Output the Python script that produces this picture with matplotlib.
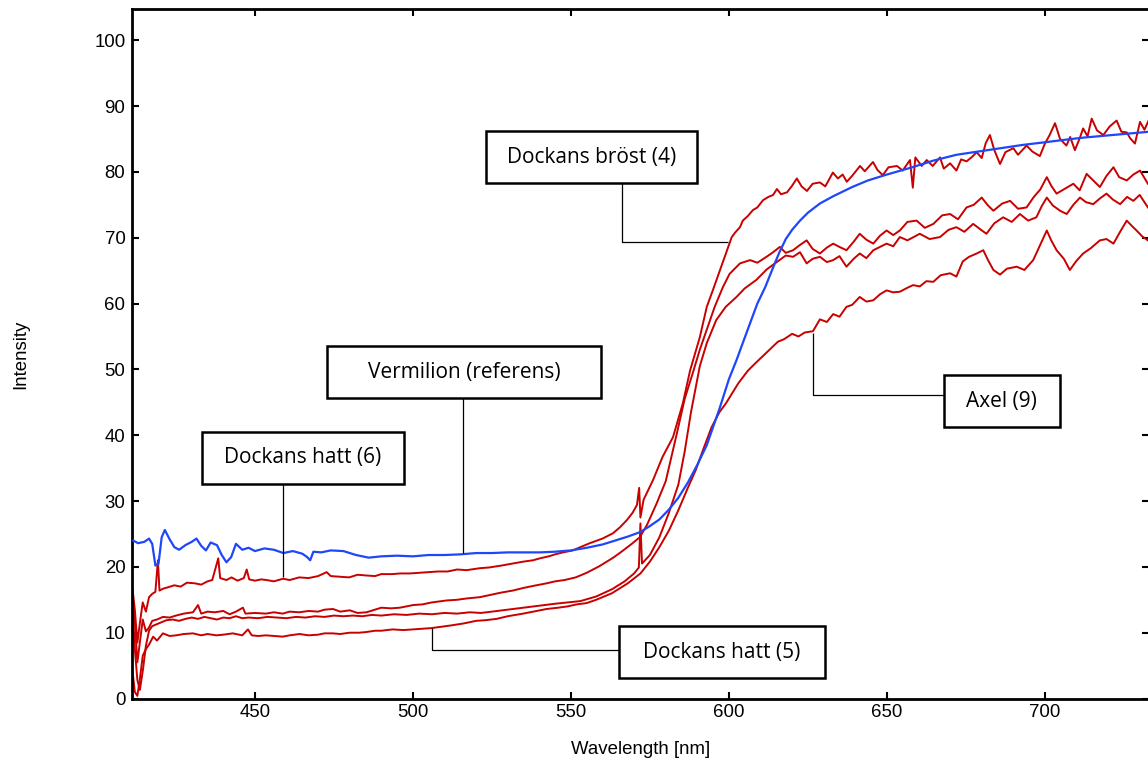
import matplotlib
matplotlib.use('Agg')
import matplotlib.pyplot as plt
from matplotlib.patches import Rectangle

# ------------------------------------------------------------------
# data (wavelength nm, intensity)
# ------------------------------------------------------------------
blue_wl = [411.5, 413, 415, 416.5, 417.5, 418.5, 419.5, 420.5, 421.5, 423, 424.5, 426, 428, 430,
           431.5, 433, 434.5, 436, 438, 439.5, 441, 442.5, 444, 446, 448, 450, 453, 456, 459, 462,
           465, 466.5, 467.5, 468.5, 471, 474, 478, 482, 486, 490, 495, 500, 505, 510, 515, 520,
           525, 530, 535, 540, 545, 550, 555, 560, 564, 568, 572, 575, 578, 581, 584, 587, 590,
           593, 597, 600, 602.4, 605, 607, 609, 611.5, 614, 616, 618, 620, 622.5, 625, 628.8,
           633, 639, 644, 650, 658, 664.6, 672, 679, 686, 693, 700, 705, 712, 719, 726, 733]
blue_val = [24.0, 23.6, 23.8, 24.3, 23.5, 20.2, 20.5, 24.5, 25.6, 24.2, 23.0, 22.6, 23.3, 23.8,
            24.3, 23.2, 22.5, 23.7, 23.3, 21.8, 20.7, 21.5, 23.5, 22.6, 22.9, 22.4, 22.8, 22.6,
            22.1, 22.4, 22.0, 21.5, 21.0, 22.3, 22.2, 22.5, 22.4, 21.8, 21.4, 21.6, 21.7, 21.6,
            21.8, 21.8, 21.9, 22.1, 22.1, 22.2, 22.2, 22.2, 22.3, 22.5, 22.9, 23.4, 24.0, 24.6,
            25.3, 26.2, 27.2, 28.7, 30.5, 32.8, 35.5, 38.5, 44.0, 48.5, 51.4, 54.8, 57.4, 60.0,
            62.5, 65.5, 67.8, 69.8, 71.2, 72.6, 73.8, 75.2, 76.3, 77.7, 78.7, 79.6, 80.7, 81.7,
            82.6, 83.1, 83.6, 84.1, 84.5, 84.8, 85.2, 85.5, 85.8, 86.1]

# top red curve at the long-wavelength end (Dockans hatt (6) / Dockans brost (4))
red_a_wl = [411.3, 412, 412.8, 413.6, 414.5, 415.5, 416.5, 417.5, 418.5, 419.3, 419.8, 421, 422.5,
            424.5, 426.5, 428.5, 431, 433, 435, 436.5, 438.4, 439, 441, 442.6, 444.5, 446.5, 447.4,
            448.2, 450, 452, 453.7, 456, 458.9, 461, 464, 467, 470, 472.7, 474, 477, 479.8, 482.5,
            485, 488, 490, 493.4, 496, 499, 502, 505.4, 508, 511, 514, 517, 521.2, 524, 528, 531.6,
            535, 538, 540.2, 543, 545, 547.5, 550.6, 553, 556, 560, 563.3, 565.5, 567.7, 569.5,
            570.9, 571.6, 572, 573, 574, 576, 579, 582.3, 585.4, 587.7, 590.8, 593, 594.9, 597.2,
            599.4, 600.9, 602, 603.5, 604.4, 606, 607.6, 609, 610.8, 612.5, 614, 615.2, 616.5,
            618.4, 620, 621.5, 623, 624.7, 626.5, 628.8, 630.5, 632.9, 634.5, 636, 637.3, 639,
            641.5, 643, 645.6, 647, 648.7, 650.5, 653.2, 655, 657.3, 658.2, 659, 661, 662.6, 664.5,
            666.8, 668, 670, 672, 673.5, 675.2, 677, 678.4, 680, 681.3, 682.6, 684, 685.8, 687.5,
            690, 691.5, 694.2, 696, 698.4, 700, 701.5, 703.2, 704.8, 706.8, 708, 709.5, 711, 712.1,
            713.5, 714.8, 716.5, 718.5, 720.5, 722.7, 724.2, 725.9, 727, 728.5, 730.1, 731.5, 733]
red_a_val = [16.5, 13.5, 8.5, 11.5, 14.6, 13.2, 15.4, 15.9, 16.2, 21.0, 16.4, 16.7, 16.9, 17.2,
             17.0, 17.6, 17.5, 17.3, 17.8, 18.0, 21.3, 18.3, 18.0, 18.4, 17.9, 18.3, 19.6, 18.1,
             17.9, 18.1, 18.0, 17.8, 18.2, 18.0, 18.4, 18.3, 18.6, 19.2, 18.6, 18.5, 18.4, 18.8,
             18.7, 18.6, 18.9, 18.9, 19.0, 19.0, 19.1, 19.2, 19.3, 19.3, 19.6, 19.5, 19.8, 19.9,
             20.2, 20.5, 20.8, 21.0, 21.3, 21.6, 21.9, 22.2, 22.5, 23.0, 23.6, 24.3, 25.1, 26.0,
             27.1, 28.2, 29.4, 32.0, 27.5, 30.2, 31.2, 33.2, 36.7, 39.7, 44.8, 49.8, 54.9, 59.5,
             62.0, 65.1, 68.1, 70.1, 70.8, 71.6, 72.6, 73.3, 74.2, 74.6, 75.7, 76.2, 76.5, 77.4,
             76.6, 76.9, 77.9, 79.0, 77.8, 77.1, 78.2, 78.4, 77.8, 79.9, 79.0, 79.6, 78.5, 79.4,
             80.9, 80.1, 81.5, 80.3, 79.5, 80.7, 80.9, 80.2, 81.8, 77.6, 82.2, 80.9, 81.8, 80.9,
             82.2, 80.5, 81.3, 80.2, 81.9, 81.6, 82.3, 83.0, 82.1, 84.4, 85.6, 83.3, 81.2, 83.0,
             83.6, 82.6, 84.0, 83.1, 82.4, 84.3, 85.6, 87.4, 85.0, 84.0, 85.3, 83.3, 85.1, 86.6,
             85.4, 88.1, 86.3, 85.6, 86.9, 87.8, 86.1, 86.0, 85.1, 84.3, 87.6, 86.4, 88.0]

# second red curve
red_b_wl = [411.3, 412, 412.8, 413.6, 414.5, 415.5, 416.5, 417.5, 419, 420.9, 423, 425, 427.5,
            430.4, 432, 433, 435, 437.3, 440, 442, 444, 446.2, 447, 450, 453.5, 456, 458.8, 461,
            464, 467, 470, 472, 474.7, 477, 480, 482.5, 485.3, 488, 490, 493, 495.9, 500.1, 503,
            506, 510.7, 514, 517, 521.2, 525, 528, 531.6, 535, 538, 542.3, 545, 548, 551.5, 555,
            559, 563.4, 566, 569, 571.8, 574, 577.1, 580, 583.4, 586, 588.6, 590.8, 592.9, 595.5,
            598.1, 600.2, 603.5, 606.7, 609, 611.9, 614, 616.1, 618, 620.3, 622.5, 624.6, 626.5,
            628.8, 631, 633, 635, 637.2, 639.5, 641.4, 643.5, 645.7, 647.8, 649.9, 652, 654.1,
            656.5, 659.4, 662, 664.7, 667.5, 670, 672.5, 675.2, 677.5, 680, 682, 683.7, 686.5,
            689, 691.5, 694.2, 696.5, 698.5, 700.6, 702, 703.7, 706.5, 709, 711, 713.2, 715.5,
            717.4, 719.5, 721.7, 723.5, 725.9, 728, 730.1, 732.6]
red_b_val = [15.0, 11.5, 5.5, 8.5, 12.0, 10.2, 10.8, 11.8, 12.0, 12.4, 12.3, 12.6, 12.9, 13.1,
             14.2, 12.9, 13.2, 13.1, 13.3, 12.8, 13.2, 13.8, 12.9, 13.0, 12.9, 13.1, 12.9, 13.2,
             13.1, 13.3, 13.2, 13.5, 13.6, 13.2, 13.4, 13.0, 13.1, 13.5, 13.8, 13.7, 13.8, 14.2,
             14.3, 14.6, 14.9, 15.0, 15.2, 15.4, 15.8, 16.1, 16.4, 16.8, 17.1, 17.5, 17.8, 18.0,
             18.4, 19.1, 20.1, 21.4, 22.3, 23.4, 24.5, 26.3, 29.6, 33.0, 40.0, 45.5, 49.5, 53.0,
             55.9, 59.5, 62.5, 64.5, 66.1, 66.6, 66.2, 67.1, 67.8, 68.6, 67.7, 68.1, 68.9, 69.6,
             68.3, 67.6, 68.5, 69.1, 68.6, 68.1, 69.4, 70.6, 69.7, 69.1, 70.3, 71.1, 70.4, 71.1,
             72.4, 72.6, 71.5, 72.1, 73.4, 73.6, 72.8, 74.6, 75.0, 76.1, 74.9, 74.1, 75.2, 75.6,
             74.4, 74.6, 76.2, 77.3, 79.2, 77.9, 76.7, 77.5, 78.2, 77.2, 79.7, 78.6, 77.7, 79.4,
             80.7, 79.2, 78.7, 79.6, 80.2, 78.2]

# third red curve
red_c_wl = [411.3, 412, 412.8, 413.6, 414.6, 415.5, 416.5, 417.5, 418.5, 420, 422, 424, 426, 428,
            430, 432, 434, 436, 438, 440, 442, 444, 446, 448, 451, 454, 457, 460, 463, 466, 469,
            472, 475, 478, 481, 484, 487, 490, 494, 498, 502, 506, 510, 514, 518, 521.5, 525, 530,
            535, 540, 545, 549, 553, 558, 563, 567, 570, 571.5, 572, 572.5, 575, 578, 581, 584,
            586, 588, 590.8, 593, 596, 599, 602.4, 605, 608.7, 612, 616, 618, 620.3, 622.5, 624.6,
            626.5, 628.8, 631, 633, 635, 637.2, 639.5, 641.4, 643.5, 645.7, 647.8, 649.9, 652,
            654.1, 656.5, 660.4, 663.5, 666.8, 669.5, 672, 674.5, 677.3, 679.5, 681.5, 684, 686.8,
            689.5, 692.1, 694.7, 697.3, 699, 700.6, 702.5, 704.8, 706.9, 709, 711.1, 713, 715.3,
            717.5, 719.5, 721.5, 723.8, 726, 728, 730, 732.6]
red_c_val = [13.0, 7.5, 2.8, 1.3, 4.5, 8.0, 10.3, 11.0, 11.2, 11.5, 11.9, 12.0, 11.8, 12.1, 12.3,
             12.1, 12.4, 12.2, 12.0, 12.3, 12.2, 12.5, 12.2, 12.3, 12.2, 12.4, 12.3, 12.2, 12.4,
             12.3, 12.5, 12.4, 12.6, 12.5, 12.6, 12.5, 12.7, 12.6, 12.8, 12.7, 12.9, 12.8, 13.0,
             12.9, 13.1, 13.0, 13.2, 13.5, 13.8, 14.1, 14.4, 14.6, 14.8, 15.5, 16.6, 17.8, 19.0,
             19.9, 26.6, 20.5, 21.8, 24.5, 28.2, 32.5, 37.5, 43.5, 50.5, 54.0, 57.5, 59.5, 61.0,
             62.3, 63.6, 65.2, 66.6, 67.3, 67.1, 67.8, 66.1, 66.8, 67.1, 66.3, 66.6, 67.2, 65.6,
             66.8, 67.6, 66.9, 68.1, 68.6, 69.1, 68.7, 70.1, 69.6, 70.6, 69.8, 70.1, 71.2, 71.6,
             70.9, 72.1, 71.3, 70.6, 72.2, 73.1, 72.4, 73.6, 72.6, 73.1, 74.8, 76.1, 74.9, 74.1,
             73.6, 75.0, 76.1, 75.4, 75.1, 76.0, 76.7, 75.8, 75.1, 76.2, 75.6, 76.5, 74.6]

# lowest red curve at the long-wavelength end (Dockans hatt (5) / Axel (9))
red_d_wl = [411.3, 412, 412.8, 413.6, 414.5, 415.5, 416.5, 417.8, 419, 420.9, 423, 425.1, 427.5,
            430.4, 433, 435, 437.8, 440, 443, 446, 447.8, 449, 451, 453.5, 456, 458.8, 461, 464.1,
            467, 470, 472, 474.6, 477, 480, 483, 485.2, 488, 490, 493.6, 497, 500, 503, 505.9, 509,
            512, 516, 520, 523, 526.5, 530, 534.9, 538, 542.3, 546, 549, 551.8, 555, 558, 563, 568,
            572, 575, 578, 581, 584, 587, 589.5, 592, 594.5, 597, 599, 603, 606, 608.3, 612, 615.5,
            617.5, 620, 622, 624, 626.6, 628.8, 631, 633, 635, 637.2, 639, 641.4, 643.5, 645.7,
            647.8, 649.9, 652, 654.1, 656.5, 658.3, 660.4, 662.5, 664.7, 667, 670, 672, 674, 676,
            678.4, 680.5, 682, 683.7, 685.8, 688, 691.1, 693.5, 696.3, 698.5, 700.6, 702, 703.7,
            706, 707.9, 710, 712.1, 714.5, 717.4, 719.5, 721.7, 723.8, 725.9, 727.5, 729, 730.8,
            732.6]
red_d_val = [4.0, 1.0, 0.4, 3.0, 6.5, 7.5, 8.2, 9.4, 8.8, 9.9, 9.5, 9.6, 9.8, 9.9, 9.6, 9.8, 9.6,
             9.7, 9.9, 9.6, 10.5, 9.6, 9.5, 9.6, 9.5, 9.4, 9.6, 9.8, 9.6, 9.7, 9.9, 9.9, 9.8, 10.0,
             10.0, 10.1, 10.3, 10.3, 10.5, 10.4, 10.5, 10.6, 10.7, 10.9, 11.1, 11.4, 11.8, 11.9,
             12.1, 12.5, 12.9, 13.2, 13.6, 13.8, 14.0, 14.3, 14.5, 15.0, 16.0, 17.5, 19.0, 20.8,
             23.0, 25.5, 28.6, 32.0, 34.7, 38.0, 41.2, 43.5, 44.8, 47.9, 49.8, 50.9, 52.6, 54.2,
             54.6, 55.4, 55.0, 55.6, 55.8, 57.6, 57.2, 58.4, 58.0, 59.5, 59.8, 61.0, 60.3, 60.5,
             61.4, 62.0, 61.7, 61.8, 62.4, 62.8, 62.6, 63.4, 63.3, 64.3, 64.6, 64.1, 66.4, 67.1,
             67.6, 68.1, 66.6, 65.1, 64.4, 65.3, 65.6, 65.1, 66.6, 68.9, 71.1, 69.6, 68.1, 66.8,
             65.1, 66.5, 67.6, 68.4, 69.6, 69.8, 69.1, 70.9, 72.6, 71.8, 71.1, 70.2, 69.6]

# callout boxes: label, box (x0, x1, y0, y1) and the elbow leader drawn to the curve
labels = ["Dockans bröst (4)", "Vermilion (referens)", "Dockans hatt (6)", "Axel (9)", "Dockans hatt (5)"]
boxes = [(523.1, 589.9, 78.3, 86.2), (472.8, 559.5, 45.6, 53.5), (433.2, 497.2, 32.6, 40.5),
         (668.0, 704.7, 41.2, 49.1), (565.2, 630.4, 3.1, 11.0)]
leaders = [([566.1, 566.1, 599.7], [78.3, 69.3, 69.3]),
           ([515.8, 515.8], [45.6, 22.1]),
           ([458.9, 458.9], [32.6, 18.4]),
           ([668.0, 626.6, 626.6], [46.1, 46.1, 55.5]),
           ([565.2, 506.0, 506.0], [7.3, 7.3, 10.7])]

RED = '#C80000'
BLUE = '#1E46FA'
FS = 13.4

plt.rcParams['font.family'] = ['Liberation Sans', 'DejaVu Sans']

fig = plt.figure(figsize=(11.48, 7.62), dpi=100)
ax = fig.add_axes([0.1147, 0.0833, 0.8866, 0.9045])

for wl, val in [(red_d_wl, red_d_val), (red_c_wl, red_c_val), (red_b_wl, red_b_val), (red_a_wl, red_a_val)]:
    ax.plot(wl, val, color=RED, lw=1.4, zorder=2)
ax.plot(blue_wl, blue_val, color=BLUE, lw=1.6, zorder=3)

for (xs, ys) in leaders:
    ax.plot(xs, ys, color='black', lw=0.9, zorder=4, solid_capstyle='butt')

for text, (x0, x1, y0, y1) in zip(labels, boxes):
    ax.add_patch(Rectangle((x0, y0), x1 - x0, y1 - y0, facecolor='white', edgecolor='black',
                           lw=1.8, zorder=5))
    ax.text((x0 + x1) / 2, (y0 + y1) / 2, text, ha='center', va='center', fontsize=15,
            family=['Open Sans', 'DejaVu Sans'], zorder=6)

ax.set_xlim(411.0, 733.1)
ax.set_ylim(0, 104.7)
ax.set_xticks([450, 500, 550, 600, 650, 700])
ax.set_yticks(range(0, 101, 10))
ax.tick_params(direction='in', length=5, width=1.5, labelsize=FS, top=True, right=True,
               colors='black')
ax.tick_params(axis='x', pad=4)
ax.tick_params(axis='y', pad=4.5)
for sp in ax.spines.values():
    sp.set_linewidth(2.0)

ax.set_xlabel('Wavelength [nm]', fontsize=FS, labelpad=14)
ax.set_ylabel('Intensity', fontsize=FS, labelpad=47)

fig.savefig('out.png', dpi=100)
